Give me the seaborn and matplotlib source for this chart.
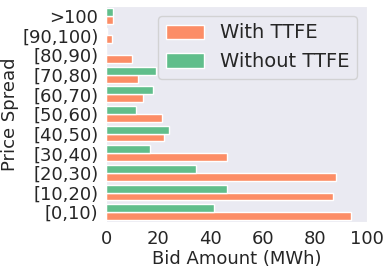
import pandas as pd
import numpy as np
import matplotlib
matplotlib.use("Agg")
import matplotlib.pyplot as plt
import seaborn as sns

# Bid amounts per price bucket
spreads = ['[0,10)', '[10,20)', '[20,30)', '[30,40)', '[40,50)', '[50,60)',
           '[60,70)', '[70,80)', '[80,90)', '[90,100)', '>100']
with_ttfe = [93.8, 86.8, 88.3, 46.5, 22.2, 21.4, 14.0, 12.2, 9.9, 2.2, 2.8]
without_ttfe = [41.4, 46.3, 34.5, 16.8, 24.1, 11.3, 17.9, 19.0, 0.0, 0.5, 2.6]

df = pd.DataFrame({'Price Spread': spreads * 2,
                   'Bid': with_ttfe + without_ttfe,
                   'Case': ['With TTFE'] * len(spreads) + ['Without TTFE'] * len(spreads)})

sns.set_style("dark")
pal = {'With TTFE': '#fc8d66', 'Without TTFE': '#60be8b'}

fig, ax = plt.subplots(figsize=(3.9, 2.72), dpi=100)
fig.subplots_adjust(left=0.272, right=0.941, top=0.978, bottom=0.184)

sns.barplot(data=df, y='Price Spread', x='Bid', hue='Case', order=spreads,
            hue_order=['With TTFE', 'Without TTFE'], palette=pal, saturation=1,
            orient='h', width=0.8, edgecolor='white', linewidth=1, ax=ax)
# bottom-up category order, like a plain barh
ax.invert_yaxis()

ax.set_xlim(0, 100)
ax.set_xticks([0, 20, 40, 60, 80, 100])
ax.set_xlabel('Bid Amount (MWh)', fontsize=13, labelpad=2)
ax.set_ylabel('Price Spread', fontsize=13, labelpad=2)
ax.tick_params(axis='both', labelsize=13, pad=2)

leg = ax.legend(loc='upper right', fontsize=14, title=None,
                handlelength=2.0, handleheight=0.75, borderaxespad=0.5)

fig.savefig('out.png', dpi=100)
